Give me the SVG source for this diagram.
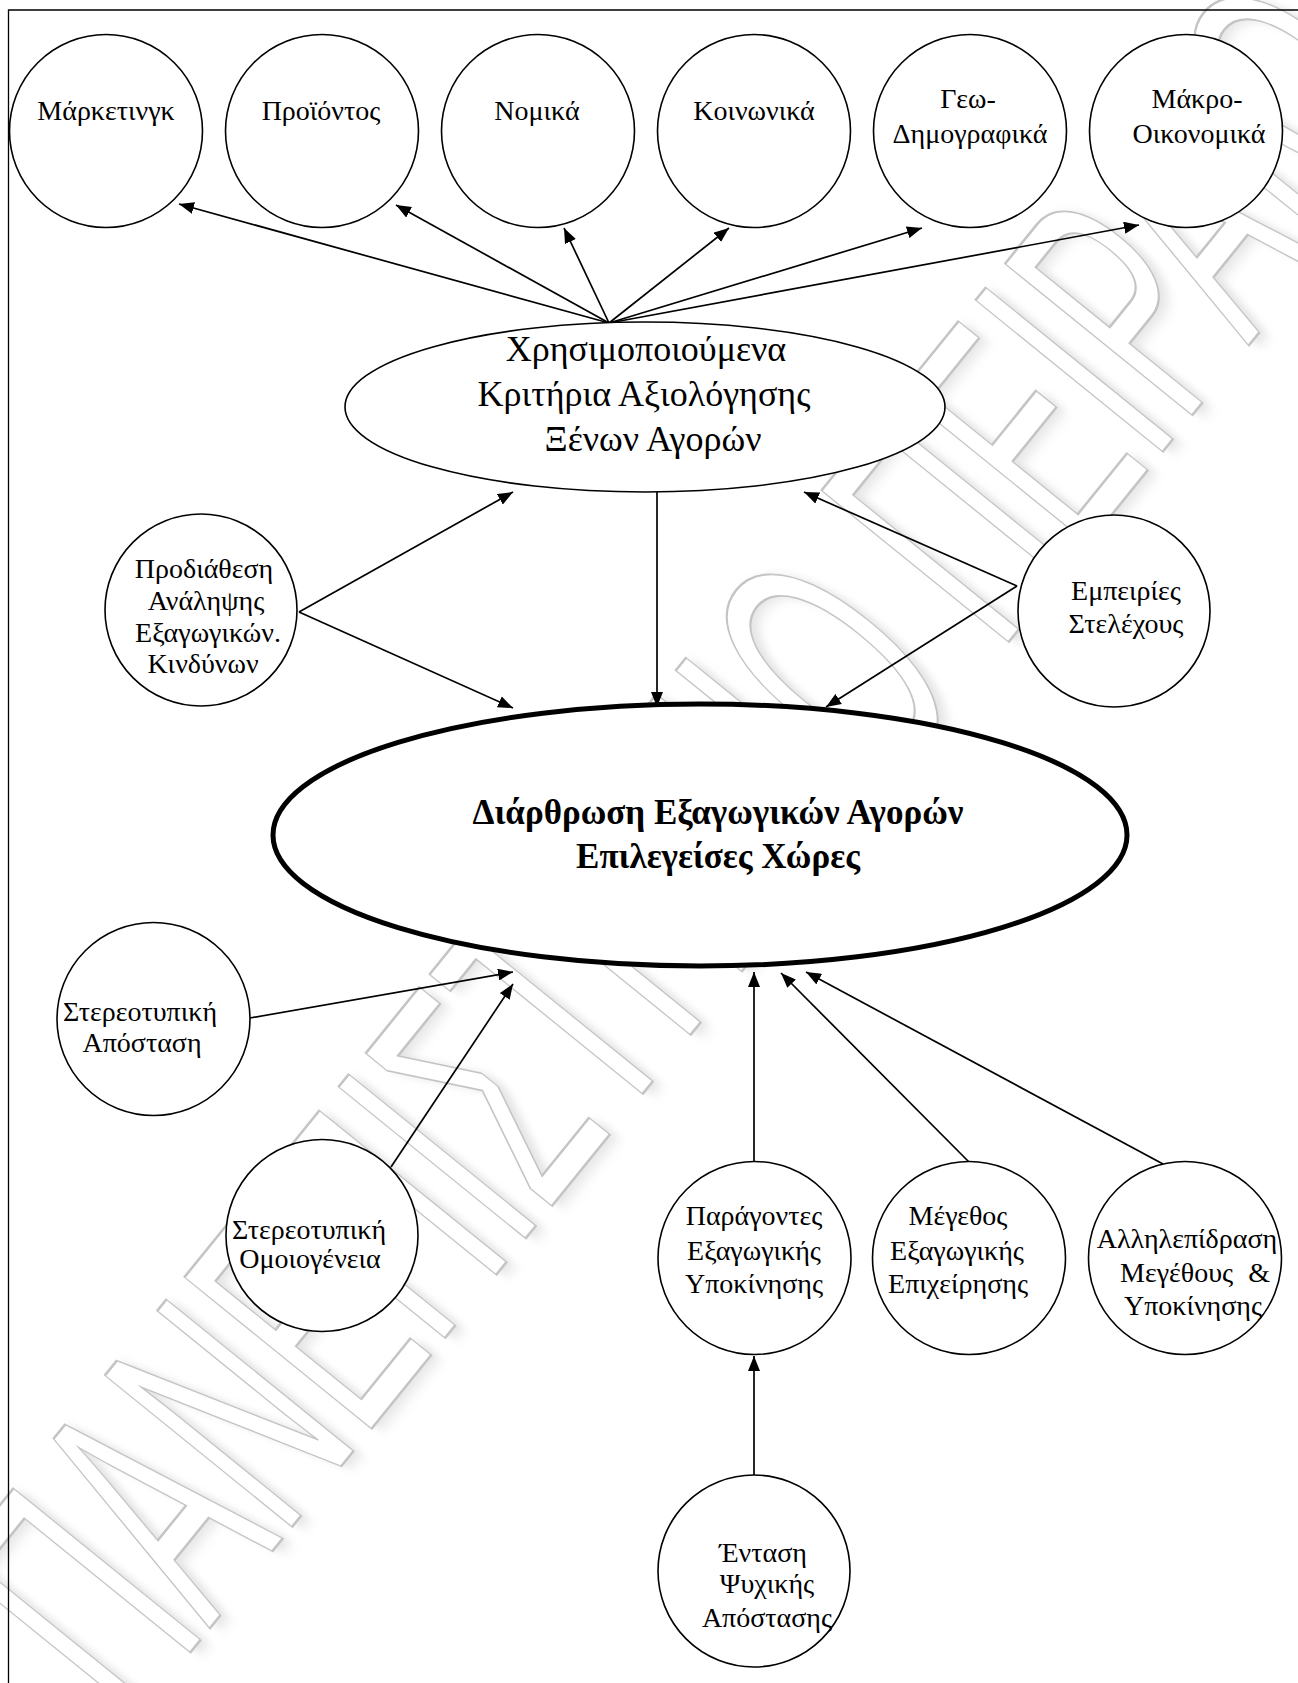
<svg xmlns="http://www.w3.org/2000/svg" width="1298" height="1683" viewBox="0 0 1298 1683">
  <defs>
    <marker id="arrow" markerUnits="userSpaceOnUse" markerWidth="16" markerHeight="12" refX="15" refY="6" orient="auto">
      <path d="M0,0 L15,6 L0,12 z" fill="#000"/>
    </marker>
    <filter id="soft" x="-10%" y="-10%" width="120%" height="120%">
      <feGaussianBlur stdDeviation="7"/>
    </filter>
    <style>
      .node { fill: #fff; stroke: #000; stroke-width: 1.6; }
      .core { fill: #fff; stroke: #000; stroke-width: 5; }
      .lbl { font-family: "Liberation Serif", "Times New Roman", serif; font-size: 28px; fill: #000; text-anchor: middle; }
      .big { font-size: 36px; }
      .bold { font-size: 35px; font-weight: bold; }
      .edge { stroke: #000; stroke-width: 1.7; fill: none; marker-end: url(#arrow); }
      .wm { font-family: "Liberation Sans", Arial, sans-serif; font-size: 350px; }
    </style>
  </defs>

  <rect x="0" y="0" width="1298" height="1683" fill="#fff"/>

  <!-- faint diagonal watermark -->
  <g id="watermark" transform="translate(130,1727) rotate(-51) scale(0.5,1)">
    <text class="wm" x="8" y="8" fill="#e4e4e4" filter="url(#soft)">ΠΑΝΕΠΙΣΤΗΜΙΟ ΠΕΙΡΑΙΩΣ</text>
    <text class="wm" x="0" y="0" fill="#fff" stroke="#c4c4c4" stroke-width="2" vector-effect="non-scaling-stroke">ΠΑΝΕΠΙΣΤΗΜΙΟ ΠΕΙΡΑΙΩΣ</text>
  </g>

  <!-- page frame -->
  <path d="M8.5,1683 L8.5,10 L1298,10" fill="none" stroke="#000" stroke-width="1.3"/>

  <g id="connectors">
    <line class="edge" x1="609" y1="323" x2="179" y2="204"/>
    <line class="edge" x1="609" y1="323" x2="396" y2="205"/>
    <line class="edge" x1="609" y1="323" x2="564" y2="228"/>
    <line class="edge" x1="609" y1="323" x2="729" y2="228"/>
    <line class="edge" x1="609" y1="323" x2="922" y2="228"/>
    <line class="edge" x1="609" y1="323" x2="1139" y2="225"/>
    <line class="edge" x1="299" y1="612" x2="513" y2="492"/>
    <line class="edge" x1="299" y1="612" x2="513" y2="708"/>
    <line class="edge" x1="657" y1="492" x2="657" y2="707"/>
    <line class="edge" x1="1017" y1="586" x2="804" y2="492"/>
    <line class="edge" x1="1017" y1="586" x2="826" y2="707"/>
    <line class="edge" x1="250" y1="1018" x2="513" y2="972"/>
    <line class="edge" x1="391" y1="1167" x2="513" y2="984"/>
    <line class="edge" x1="754" y1="1162" x2="754" y2="972"/>
    <line class="edge" x1="969" y1="1162" x2="781" y2="973"/>
    <line class="edge" x1="1163" y1="1164" x2="806" y2="972"/>
    <line class="edge" x1="754" y1="1476" x2="754" y2="1356"/>
  </g>

  <g id="marketing">
    <circle class="node" cx="106" cy="131" r="96.5"/>
    <text class="lbl" x="106" y="120">Μάρκετινγκ</text>
  </g>
  <g id="product">
    <circle class="node" cx="322" cy="131" r="96.5"/>
    <text class="lbl" x="321" y="120">Προϊόντος</text>
  </g>
  <g id="legal">
    <circle class="node" cx="538" cy="131" r="96.5"/>
    <text class="lbl" x="537" y="120">Νομικά</text>
  </g>
  <g id="social">
    <circle class="node" cx="754" cy="131" r="96.5"/>
    <text class="lbl" x="754" y="120">Κοινωνικά</text>
  </g>
  <g id="geodemographic">
    <circle class="node" cx="970" cy="131" r="96.5"/>
    <text class="lbl" x="968" y="108">Γεω-</text>
    <text class="lbl" x="970" y="143">Δημογραφικά</text>
  </g>
  <g id="macroeconomic">
    <circle class="node" cx="1186" cy="131" r="96.5"/>
    <text class="lbl" x="1197" y="108">Μάκρο-</text>
    <text class="lbl" x="1199" y="143">Οικονομικά</text>
  </g>

  <g id="criteria">
    <ellipse class="node" cx="645" cy="407" rx="300" ry="85"/>
    <text class="lbl big" x="646" y="361">Χρησιμοποιούμενα</text>
    <text class="lbl big" x="644" y="406">Κριτήρια Αξιολόγησης</text>
    <text class="lbl big" x="653" y="451">Ξένων Αγορών</text>
  </g>

  <g id="risk">
    <circle class="node" cx="201" cy="610" r="96"/>
    <text class="lbl" x="204" y="578">Προδιάθεση</text>
    <text class="lbl" x="206" y="610">Ανάληψης</text>
    <text class="lbl" x="208" y="642">Εξαγωγικών.</text>
    <text class="lbl" x="203" y="673">Κινδύνων</text>
  </g>

  <g id="experience">
    <circle class="node" cx="1114" cy="611" r="96"/>
    <text class="lbl" x="1126" y="600">Εμπειρίες</text>
    <text class="lbl" x="1126" y="633">Στελέχους</text>
  </g>

  <g id="structure">
    <ellipse class="core" cx="700" cy="835" rx="427" ry="131"/>
    <text class="lbl bold" x="718" y="824">Διάρθρωση Εξαγωγικών Αγορών</text>
    <text class="lbl bold" x="718" y="868">Επιλεγείσες Χώρες</text>
  </g>

  <g id="stereo-distance">
    <circle class="node" cx="153.5" cy="1019" r="96.5"/>
    <text class="lbl" x="140" y="1021">Στερεοτυπική</text>
    <text class="lbl" x="142" y="1052">Απόσταση</text>
  </g>

  <g id="stereo-homogeneity">
    <circle class="node" cx="322" cy="1235.5" r="96"/>
    <text class="lbl" x="309" y="1239">Στερεοτυπική</text>
    <text class="lbl" x="310" y="1268">Ομοιογένεια</text>
  </g>

  <g id="motivation">
    <circle class="node" cx="754.5" cy="1258" r="96.5"/>
    <text class="lbl" x="754" y="1225">Παράγοντες</text>
    <text class="lbl" x="754" y="1260">Εξαγωγικής</text>
    <text class="lbl" x="754" y="1293">Υποκίνησης</text>
  </g>

  <g id="size">
    <circle class="node" cx="969" cy="1258" r="96.5"/>
    <text class="lbl" x="958" y="1225">Μέγεθος</text>
    <text class="lbl" x="957" y="1260">Εξαγωγικής</text>
    <text class="lbl" x="958" y="1293">Επιχείρησης</text>
  </g>

  <g id="interaction">
    <circle class="node" cx="1185" cy="1258" r="96.5"/>
    <text class="lbl" x="1187" y="1248">Αλληλεπίδραση</text>
    <text class="lbl" x="1195" y="1282" word-spacing="8">Μεγέθους &amp;</text>
    <text class="lbl" x="1193" y="1315">Υποκίνησης</text>
  </g>

  <g id="psychic-distance">
    <circle class="node" cx="754" cy="1571" r="96"/>
    <text class="lbl" x="763" y="1562">Ένταση</text>
    <text class="lbl" x="767" y="1593">Ψυχικής</text>
    <text class="lbl" x="767" y="1627">Απόστασης</text>
  </g>
</svg>
